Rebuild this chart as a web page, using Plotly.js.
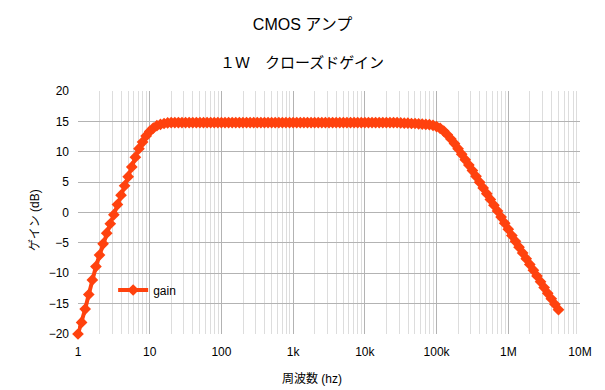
<!DOCTYPE html>
<html>
<head>
<meta charset="utf-8">
<script src="https://cdn.plot.ly/plotly-3.0.1.min.js"></script>
<style>html,body{margin:0;padding:0;background:#fff;}#chart{width:605px;height:390px;}</style>
</head>
<body>
<div id="chart"></div>
<script>
const freq = [
  1, 1.122, 1.259, 1.413, 1.585, 1.778, 1.995, 2.239, 2.512, 2.818, 3.162, 3.548, 3.981, 4.467, 5.012, 5.623, 6.310, 7.079, 7.943, 8.913,
  10, 11.22, 12.59, 14.13, 15.85, 17.78, 19.95, 22.39, 25.12, 28.18, 31.62, 35.48, 39.81, 44.67, 50.12, 56.23, 63.10, 70.79, 79.43, 89.13,
  100, 112.2, 125.9, 141.3, 158.5, 177.8, 199.5, 223.9, 251.2, 281.8, 316.2, 354.8, 398.1, 446.7, 501.2, 562.3, 631.0, 707.9, 794.3, 891.3,
  1000, 1122, 1259, 1413, 1585, 1778, 1995, 2239, 2512, 2818, 3162, 3548, 3981, 4467, 5012, 5623, 6310, 7079, 7943, 8913,
  10000, 11220, 12590, 14130, 15850, 17780, 19950, 22390, 25120, 28180, 31620, 35480, 39810, 44670, 50120, 56230, 63100, 70790, 79430, 89130,
  100000, 112200, 125900, 141300, 158500, 177800, 199500, 223900, 251200, 281800, 316200, 354800, 398100, 446700, 501200, 562300, 631000, 707900, 794300, 891300,
  1000000, 1122000, 1259000, 1413000, 1585000, 1778000, 1995000, 2239000, 2512000, 2818000, 3162000, 3548000, 3981000, 4467000, 5012000
];
const gain = [
  -20, -18.1, -15.9, -13.5, -11.1, -8.9, -7.0, -5.15, -3.4, -1.85, -0.35, 1.3, 2.85, 4.4, 5.9, 7.5, 9.1, 10.5, 11.6, 12.6,
  13.35, 13.9, 14.3, 14.5, 14.65, 14.75, 14.8, 14.8, 14.8, 14.8, 14.8, 14.8, 14.8, 14.8, 14.8, 14.8, 14.8, 14.8, 14.8, 14.8,
  14.8, 14.8, 14.8, 14.8, 14.8, 14.8, 14.8, 14.8, 14.8, 14.8, 14.8, 14.8, 14.8, 14.8, 14.8, 14.8, 14.8, 14.8, 14.8, 14.8,
  14.8, 14.8, 14.8, 14.8, 14.8, 14.8, 14.8, 14.8, 14.8, 14.8, 14.8, 14.8, 14.8, 14.8, 14.8, 14.8, 14.8, 14.8, 14.8, 14.8,
  14.8, 14.8, 14.8, 14.8, 14.8, 14.8, 14.8, 14.8, 14.8, 14.8, 14.75, 14.7, 14.7, 14.65, 14.65, 14.6, 14.55, 14.5, 14.45, 14.35,
  14.15, 13.85, 13.4, 12.8, 12.1, 11.35, 10.5, 9.6, 8.7, 7.8, 6.9, 5.95, 5.0, 4.05, 3.1, 2.15, 1.2, 0.25, -0.75, -1.75,
  -2.75, -3.8, -4.75, -5.7, -6.65, -7.6, -8.55, -9.5, -10.45, -11.4, -12.35, -13.3, -14.2, -15.1, -16.0
];
const xTickVals = [1, 10, 100, 1000, 10000, 100000, 1000000, 10000000];
const xTickText = ['1', '10', '100', '1k', '10k', '100k', '1M', '10M'];
const yTickVals = [-20, -15, -10, -5, 0, 5, 10, 15, 20];
const seriesName = 'gain';
const titleText = 'CMOS アンプ';
const subtitleText = '１Ｗ　クローズドゲイン';
const xTitle = '周波数 (hz)';
const yTitle = 'ゲイン (dB)';

const FONT = '"Liberation Sans", "Noto Sans CJK JP", sans-serif';
const COLOR = '#ff420e';

const trace = {
  x: freq, y: gain, name: seriesName, type: 'scatter', mode: 'lines+markers',
  line: {color: COLOR, width: 4},
  marker: {symbol: 'diamond', size: 9, color: COLOR},
  cliponaxis: false,
  showlegend: true
};

const layout = {
  width: 605, height: 390,
  margin: {l: 78, r: 25, t: 91, b: 56},
  paper_bgcolor: '#ffffff', plot_bgcolor: '#ffffff',
  font: {family: FONT, size: 12, color: '#000000'},
  title: {text: titleText, font: {family: FONT, size: 16, color: '#000000'}, x: 0.5, xref: 'container', xanchor: 'center', y: 1 - 24 / 390, yref: 'container', yanchor: 'middle'},
  xaxis: {
    type: 'log', range: [0, 7], tickvals: xTickVals, ticktext: xTickText,
    showgrid: true, gridcolor: '#b3b3b3', gridwidth: 1,
    minor: {dtick: 'D1', showgrid: true, gridcolor: '#dddddd', gridwidth: 1, ticks: ''},
    zeroline: false, showline: false, ticks: '', ticklen: 0, ticklabelstandoff: 9,
    tickfont: {family: FONT, size: 12, color: '#000000'}, automargin: false
  },
  yaxis: {
    range: [-20, 20], tickvals: yTickVals, showgrid: true, gridcolor: '#b3b3b3', gridwidth: 1,
    zeroline: false, showline: false, ticks: '', ticklen: 0, ticklabelstandoff: 8,
    tickfont: {family: FONT, size: 12, color: '#000000'}, automargin: false
  },
  legend: {x: 0.07, y: 0.181, xanchor: 'left', yanchor: 'middle', bgcolor: 'rgba(0,0,0,0)', font: {family: FONT, size: 12, color: '#000000'}},
  annotations: [
    {text: subtitleText, xref: 'paper', yref: 'paper', x: (302 - 78) / 502, y: 1 + (91 - 62) / 243, xanchor: 'center', yanchor: 'middle', showarrow: false, font: {family: FONT, size: 15, color: '#000000'}},
    {text: xTitle, xref: 'paper', yref: 'paper', x: (312 - 78) / 502, y: -(378 - 334) / 243, xanchor: 'center', yanchor: 'middle', showarrow: false, font: {family: FONT, size: 12, color: '#000000'}},
    {text: yTitle, xref: 'paper', yref: 'paper', x: -(78 - 35) / 502, y: (334 - 220) / 243, xanchor: 'center', yanchor: 'middle', textangle: -90, showarrow: false, font: {family: FONT, size: 12, color: '#000000'}}
  ]
};

Plotly.newPlot('chart', [trace], layout, {displayModeBar: false, staticPlot: true});
</script>
</body>
</html>
